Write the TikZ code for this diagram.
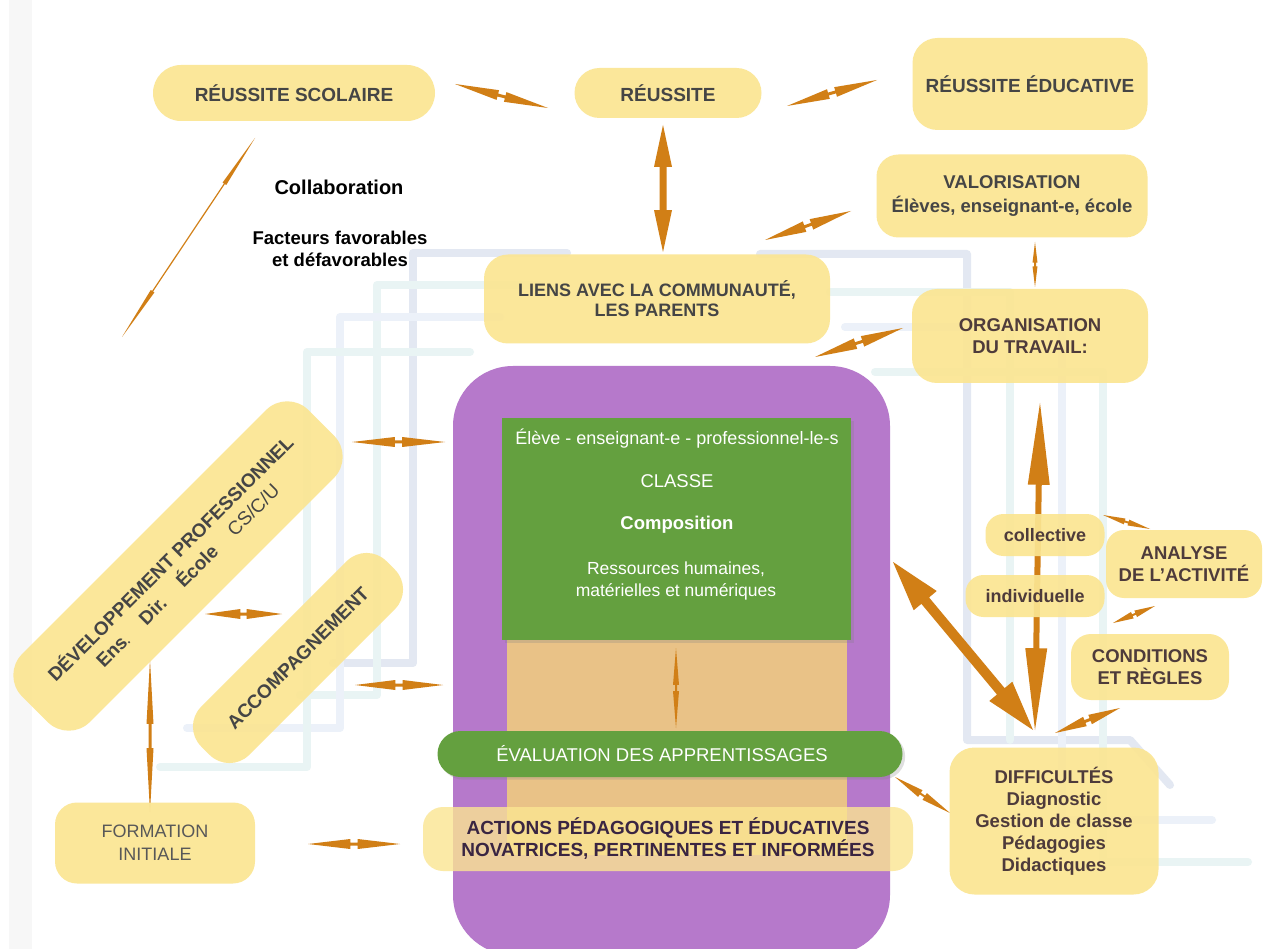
\documentclass[tikz,border=0pt]{standalone}
\usepackage{fontspec}
\setmainfont{Liberation Sans}
\usetikzlibrary{calc,shadows}
\definecolor{ybox}{HTML}{FBE592}
\definecolor{arrc}{HTML}{D17F16}
\definecolor{purp}{HTML}{B679CB}
\definecolor{tanc}{HTML}{E9C287}
\definecolor{grn}{HTML}{64A03F}
\definecolor{tgray}{HTML}{454545}
\definecolor{tbrown}{HTML}{4E3B3B}
\definecolor{tpurp}{HTML}{3A2542}
\definecolor{pipeA}{HTML}{E3E8F2}
\definecolor{pipeB}{HTML}{E9F4F4}
\definecolor{pipeC}{HTML}{ECF1F9}
\definecolor{stripec}{HTML}{F7F7F7}
% double arrow: #1 start, #2 end, #3 head fraction, #4 head half width, #5 shaft half width
\newcommand\dblarr[5]{%
  \coordinate (dhA) at ($(#1)!#3!(#2)$);
  \coordinate (dhB) at ($(#2)!#3!(#1)$);
  \fill[arrc] (#1) -- ($(dhA)!#4!90:(#2)$) -- ($(dhA)!#5!90:(#2)$)
    -- ($(dhB)!#5!-90:(#1)$) -- ($(dhB)!#4!-90:(#1)$) -- (#2)
    -- ($(dhB)!#4!90:(#1)$) -- ($(dhB)!#5!90:(#1)$)
    -- ($(dhA)!#5!-90:(#2)$) -- ($(dhA)!#4!-90:(#2)$) -- cycle;
}
\tikzset{
  ybx/.style={fill=ybox, fill opacity=0.92, text opacity=1, rounded corners=#1, inner sep=0pt, align=center, text=tgray},
  ybx/.default=22pt,
  bfnt/.style={font=\fontsize{#1}{22}\selectfont\bfseries},
  bfnt/.default=19,
  pipe/.style={line width=8pt, line cap=round, line join=round, draw=#1},
  wt/.style={text=white, inner sep=0pt, align=center},
}
\begin{document}
\begin{tikzpicture}[x=1pt,y=-1pt]
\useasboundingbox (0,0) rectangle (1264,949);
\clip (0,0) rectangle (1264,949);
\fill[white] (0,0) rectangle (1264,949);
\fill[stripec] (9,0) rectangle (32,949);

% background pipes
\draw[pipe=pipeA] (567,253) -- (413,253) -- (413,663) -- (333,663);
\draw[pipe=pipeB] (540,285) -- (377,285) -- (377,695) -- (300,695);
\draw[pipe=pipeC] (500,317) -- (340,317) -- (340,728) -- (187,728);
\draw[pipe=pipeB] (470,352) -- (307,352) -- (307,767) -- (160,767);
\draw[pipe=pipeA] (760,254) -- (967,254) -- (967,740) -- (1130,740) -- (1170,785);
\draw[pipe=pipeB] (830,292) -- (1010,292) -- (1010,740);
\draw[pipe=pipeC] (845,327) -- (1062,327) -- (1062,820) -- (1212,820);
\draw[pipe=pipeB] (875,372) -- (1103,372) -- (1103,862) -- (1248,862);

% central block
\fill[purp, rounded corners=60pt] (453,366) rectangle (890,955);
\fill[tanc] (507,640) rectangle (847,855);
\node[fill=grn, minimum width=349pt, minimum height=222pt, inner sep=0pt,
      drop shadow={opacity=0.25}] (classe) at (676.5,529) {};
\node[wt, font=\fontsize{18}{21}\selectfont] (g1) at (677,439) {Élève - enseignant-e - professionnel-le-s};
\node[wt, font=\fontsize{18.5}{22}\selectfont] (g2) at (677,481) {CLASSE};
\node[wt, font=\fontsize{18.5}{22}\selectfont\bfseries] (g3) at (677,525) {Composition};
\node[wt, font=\fontsize{17.5}{22}\selectfont] (g4) at (676,581) {Ressources humaines,\\matérielles et numériques};

\coordinate (s1) at (676,648); \coordinate (s2) at (676,728);
\dblarr{s1}{s2}{0.46}{3pt}{1pt}

\node[fill=grn, rounded corners=23pt, minimum width=465pt, minimum height=46pt, inner sep=0pt,
      drop shadow={opacity=0.25}] (eval) at (670,754) {};
\node[wt, font=\fontsize{18.5}{22}\selectfont] (evalt) at (662,754) {ÉVALUATION DES APPRENTISSAGES};

\node[fill=ybox, fill opacity=0.8, text opacity=1, rounded corners=20pt, minimum width=490pt,
      minimum height=64pt, inner sep=0pt, align=center, text=tpurp, bfnt=19] (act) at (668,839)
      {ACTIONS PÉDAGOGIQUES ET ÉDUCATIVES\\NOVATRICES, PERTINENTES ET INFORMÉES};

% arrows
\coordinate (a1) at (455,84);  \coordinate (a2) at (548,108);
\coordinate (b1) at (787,106); \coordinate (b2) at (877,80);
\coordinate (c1) at (663,125); \coordinate (c2) at (663,252);
\coordinate (d1) at (765,240); \coordinate (d2) at (851,211);
\coordinate (e1) at (1035,242); \coordinate (e2) at (1035,287);
\coordinate (f1) at (815,357); \coordinate (f2) at (903,328);
\coordinate (g1a) at (255,138); \coordinate (g2a) at (122,337);
\coordinate (h1) at (352,442); \coordinate (h2) at (445,442);
\coordinate (i1) at (205,614); \coordinate (i2) at (282,614);
\coordinate (j1) at (355,685); \coordinate (j2) at (443,685);
\coordinate (k1) at (150,660); \coordinate (k2) at (150,812);
\coordinate (l1) at (308,844); \coordinate (l2) at (400,844);
\coordinate (m1) at (893,562); \coordinate (m2) at (1033,730);
\coordinate (n1) at (1040,403); \coordinate (n2) at (1035,730);
\coordinate (o1) at (1103,515); \coordinate (o2) at (1150,529);
\coordinate (p1) at (1113,623); \coordinate (p2) at (1155,606);
\coordinate (q1) at (1055,733); \coordinate (q2) at (1120,708);
\coordinate (r1) at (895,777); \coordinate (r2) at (950,813);
\dblarr{a1}{a2}{0.46}{5pt}{1.5pt}
\dblarr{b1}{b2}{0.46}{5pt}{1.5pt}
\dblarr{c1}{c2}{0.33}{9pt}{3.5pt}
\dblarr{d1}{d2}{0.46}{5.5pt}{1.5pt}
\dblarr{e1}{e2}{0.46}{2.5pt}{1pt}
\dblarr{f1}{f2}{0.46}{5.5pt}{1.5pt}
\dblarr{g1a}{g2a}{0.23}{2.2pt}{0.6pt}
\dblarr{h1}{h2}{0.46}{5pt}{1.5pt}
\dblarr{i1}{i2}{0.46}{5pt}{1.5pt}
\dblarr{j1}{j2}{0.46}{5pt}{1.5pt}
\dblarr{k1}{k2}{0.42}{3.5pt}{1.5pt}
\dblarr{l1}{l2}{0.46}{5pt}{1.5pt}
\dblarr{m1}{m2}{0.23}{15pt}{5pt}
\dblarr{n1}{n2}{0.25}{11pt}{3pt}
\dblarr{o1}{o2}{0.46}{3pt}{1pt}
\dblarr{p1}{p2}{0.46}{3.5pt}{1pt}
\dblarr{q1}{q2}{0.46}{5pt}{1.5pt}
\dblarr{r1}{r2}{0.46}{4pt}{1pt}

% yellow boxes
\node[ybx=28pt, bfnt=19, minimum width=282pt, minimum height=56pt] (rs) at (294,93) {RÉUSSITE SCOLAIRE};
\node[ybx=25pt, bfnt=19, minimum width=187pt, minimum height=50pt] (reu) at (668,93) {RÉUSSITE};
\node[ybx=25pt, bfnt=19, minimum width=235pt, minimum height=92pt] (redu) at (1030,84) {RÉUSSITE ÉDUCATIVE};
\node[ybx=22pt, font=\fontsize{18.5}{24}\selectfont\bfseries, minimum width=271pt, minimum height=83pt] (val) at (1012,196) {VALORISATION\\Élèves, enseignant-e, école};
\node[ybx=24pt, font=\fontsize{18}{20}\selectfont\bfseries, minimum width=346pt, minimum height=89pt] (liens) at (657,299) {LIENS AVEC LA COMMUNAUTÉ,\\LES PARENTS};
\node[ybx=25pt, bfnt=18.5, text=tbrown, minimum width=236pt, minimum height=94pt] (org) at (1030,336) {ORGANISATION\\DU TRAVAIL:};
\node[ybx=30pt, font=\fontsize{19}{24}\selectfont\bfseries, minimum width=405pt, minimum height=96pt, rotate=45] (dev) at (178,566)
  {DÉVELOPPEMENT PROFESSIONNEL\\Ens{\fontsize{12}{14}\selectfont.}\hspace{22pt}Dir.\hspace{22pt}École\hspace{22pt}{\mdseries CS/C/U}};
\node[ybx=28pt, bfnt=19, minimum width=262pt, minimum height=68pt, rotate=45] (acc) at (298,658) {ACCOMPAGNEMENT};
\node[ybx=22pt, font=\fontsize{18}{23}\selectfont, text=tgray!90, minimum width=200pt, minimum height=81pt] (form) at (155,843) {FORMATION\\INITIALE};
\node[ybx=18pt, bfnt=18, text=tbrown, minimum width=119pt, minimum height=42pt] (coll) at (1045,535) {collective};
\node[ybx=18pt, bfnt=18, text=tbrown, minimum width=139pt, minimum height=42pt] (indiv) at (1035,596) {individuelle};
\node[ybx=18pt, bfnt=18.5, text=tbrown, minimum width=156pt, minimum height=68pt] (anal) at (1184,564) {ANALYSE\\DE L’ACTIVITÉ};
\node[ybx=20pt, bfnt=18.5, text=tbrown, minimum width=158pt, minimum height=66pt] (cond) at (1150,667) {CONDITIONS\\ET RÈGLES};
\node[ybx=25pt, bfnt=18.5, text=tbrown, minimum width=209pt, minimum height=147pt] (diff) at (1054,821)
  {DIFFICULTÉS\\Diagnostic\\Gestion de classe\\Pédagogies\\Didactiques};

% free texts
\node[inner sep=0pt, font=\fontsize{20}{24}\selectfont\bfseries] (collab) at (339,187) {Collaboration};
\node[inner sep=0pt, align=center, font=\fontsize{18.5}{22}\selectfont\bfseries] (fact) at (340,249) {Facteurs favorables\\et défavorables};
\end{tikzpicture}
\end{document}
